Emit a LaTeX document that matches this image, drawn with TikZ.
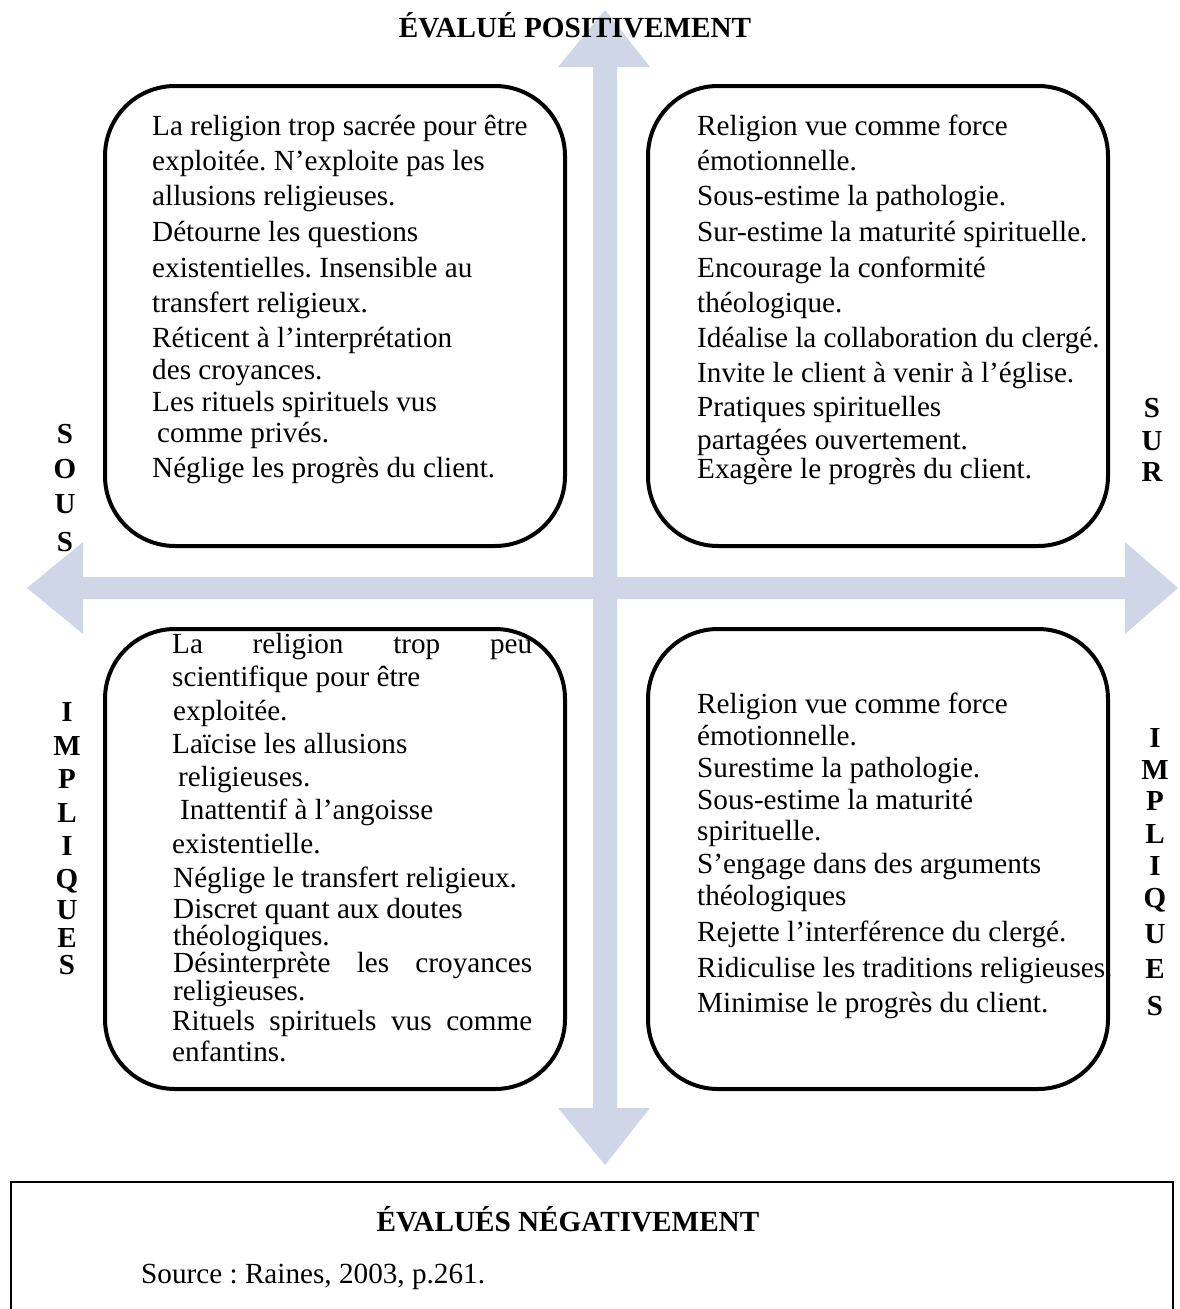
\documentclass[tikz,border=0pt]{standalone}
\usepackage{fontspec}
\setmainfont{Liberation Serif}
\definecolor{axisblue}{RGB}{207,214,232}
\frenchspacing
\begin{document}
\begin{tikzpicture}[x=1pt,y=-1pt,
  quad/.style={draw, line width=4pt, rounded corners=70pt,
    minimum width=460pt, minimum height=460pt, inner sep=0pt, outer sep=0pt},
  txtline/.style={anchor=base west, inner sep=0pt, font=\fontsize{29.2}{35}\selectfont},
  sideletter/.style={anchor=base, inner sep=0pt, font=\fontsize{29}{35}\selectfont\bfseries},
  heading/.style={anchor=base, inner sep=0pt, font=\fontsize{29.2}{35}\selectfont\bfseries}]
\useasboundingbox (0,0) rectangle (1179,1309);

% axes: vertical and horizontal double arrows
\fill[axisblue] (605,10) -- (650,67) -- (617,67) -- (617,1108) -- (650,1108)
  -- (605,1165) -- (558,1108) -- (593,1108) -- (593,67) -- (558,67) -- cycle;
\fill[axisblue] (27,588) -- (83,542) -- (83,577) -- (1125,577) -- (1125,542)
  -- (1178,588) -- (1125,634) -- (1125,599) -- (83,599) -- (83,634) -- cycle;

% four quadrants
\node[quad] (tl) at (335,316) {};
\node[quad] (tr) at (878,316) {};
\node[quad] (bl) at (335,859) {};
\node[quad] (br) at (878,859) {};

% footer frame
\node[draw, line width=1.5pt, anchor=north west, minimum width=1162pt,
  minimum height=160pt, inner sep=0pt] (footer) at (10,1181) {};

% headings
\node[heading] (pos) at (575,37) {ÉVALUÉ POSITIVEMENT};
\node[heading] (neg) at (568,1231) {ÉVALUÉS NÉGATIVEMENT};
\node[txtline] (src) at (141,1283) {Source : Raines, 2003, p.261.};

% side letters
\foreach \y/\c [count=\i] in {433/S,468/O,503/U,541/S}
  \node[sideletter] (sous\i) at (65,\y+10) {\c};
\foreach \y/\c [count=\i] in {711/I,745/M,778/P,812/L,845/I,878/Q,909/U,937/E,964/S}
  \node[sideletter] (impl\i) at (67,\y+10) {\c};
\foreach \y/\c [count=\i] in {407/S,440/U,471/R}
  \node[sideletter] (sur\i) at (1152,\y+10) {\c};
\foreach \y/\c [count=\i] in {737/I,769/M,800/P,833/L,865/I,897/Q,933/U,968/E,1005/S}
  \node[sideletter] (impr\i) at (1155,\y+10) {\c};

% top-left quadrant text
\foreach \x/\y/\t [count=\i] in {
  152/127/{La religion trop sacrée pour être},
  152/162/{exploitée. N’exploite pas les},
  152/197/{allusions religieuses.},
  152/233/{Détourne les questions},
  152/269/{existentielles. Insensible au},
  152/304/{transfert religieux.},
  152/339/{Réticent à l’interprétation},
  152/371/{des croyances.},
  152/403/{Les rituels spirituels vus},
  157/434/{comme privés.},
  152/469/{Néglige les progrès du client.}}
  \node[txtline] (tl\i) at (\x,\y+8) {\t};

% top-right quadrant text
\foreach \x/\y/\t [count=\i] in {
  697/127/{Religion vue comme force},
  697/162/{émotionnelle.},
  697/197/{Sous-estime la pathologie.},
  697/233/{Sur-estime la maturité spirituelle.},
  697/269/{Encourage la conformité},
  697/304/{théologique.},
  697/339/{Idéalise la collaboration du clergé.},
  697/374/{Invite le client à venir à l’église.},
  697/408/{Pratiques spirituelles},
  697/441/{partagées ouvertement.},
  697/470/{Exagère le progrès du client.}}
  \node[txtline] (tr\i) at (\x,\y+8) {\t};

% bottom-left quadrant text
\foreach \x/\y/\t [count=\i] in {
  172/645/{\hbox to 360pt{La\hfill religion\hfill trop\hfill peu}},
  172/678/{scientifique pour être},
  173/712/{exploitée.},
  172/745/{Laïcise les allusions},
  178/778/{religieuses.},
  180/811/{Inattentif à l’angoisse},
  172/845/{existentielle.},
  173/879/{Néglige le transfert religieux.},
  173/910/{Discret quant aux doutes},
  173/937/{théologiques.},
  173/964/{\hbox to 359pt{Désinterprète\hfill les\hfill croyances}},
  173/992/{religieuses.},
  172/1022/{\hbox to 360pt{Rituels\hfill spirituels\hfill vus\hfill comme}},
  172/1053/{enfantins.}}
  \node[txtline] (bl\i) at (\x,\y+8) {\t};

% bottom-right quadrant text
\foreach \x/\y/\t [count=\i] in {
  697/705/{Religion vue comme force},
  697/737/{émotionnelle.},
  697/769/{Surestime la pathologie.},
  697/801/{Sous-estime la maturité},
  697/832/{spirituelle.},
  697/865/{S’engage dans des arguments},
  697/897/{théologiques},
  697/933/{Rejette l’interférence du clergé.},
  697/969/{Ridiculise les traditions religieuses.},
  697/1004/{Minimise le progrès du client.}}
  \node[txtline] (br\i) at (\x,\y+8) {\t};
\end{tikzpicture}
\end{document}
